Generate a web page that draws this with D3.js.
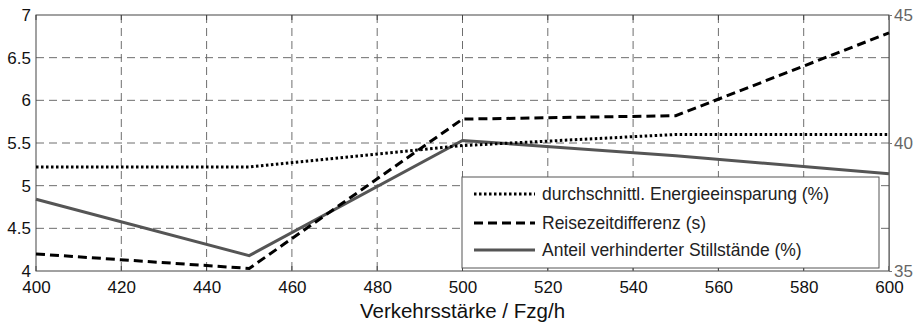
<!DOCTYPE html>
<html>
<head>
<meta charset="utf-8">
<script src="https://cdn.jsdelivr.net/npm/d3@7"></script>
<style>
  body { margin: 0; background: #fff; }
  svg { display: block; font-family: "Liberation Sans", Arial, sans-serif; }
</style>
</head>
<body>
<div id="chart"></div>
<script>
// data
const flow = [400, 450, 500, 550, 600];
const energy = [5.22, 5.22, 5.47, 5.6, 5.6];          // left axis
const travelDiff = [4.2, 4.03, 5.78, 5.82, 6.79];     // left axis
const stops = [37.8, 35.6, 40.1, 39.5, 38.8];         // right axis

const xTicks = [400, 420, 440, 460, 480, 500, 520, 540, 560, 580, 600];
const yTicks = [4, 4.5, 5, 5.5, 6, 6.5, 7];
const y2Ticks = [35, 40, 45];

const legendLabels = [
  "durchschnittl. Energieeinsparung (%)",
  "Reisezeitdifferenz (s)",
  "Anteil verhinderter Stillstände (%)"
];

const W = 914, H = 324;
const margin = {top: 15, right: 25, bottom: 53, left: 36};
const width = W - margin.left - margin.right,
      height = H - margin.top - margin.bottom;

const svg = d3.select("#chart").append("svg")
    .attr("width", W)
    .attr("height", H);

const g = svg.append("g")
    .attr("transform", `translate(${margin.left},${margin.top})`);

const x = d3.scaleLinear().domain([400, 600]).range([0, width]);
const y = d3.scaleLinear().domain([4, 7]).range([height, 0]);
const y2 = d3.scaleLinear().domain([35, 45]).range([height, 0]);

// grid
g.append("g").selectAll("line")
    .data(xTicks.slice(1, -1))
    .join("line")
    .attr("x1", d => x(d)).attr("x2", d => x(d))
    .attr("y1", 0).attr("y2", height)
    .attr("stroke", "#6e6e6e")
    .attr("stroke-dasharray", "8,5");

g.append("g").selectAll("line")
    .data(yTicks.slice(1, -1))
    .join("line")
    .attr("x1", 0).attr("x2", width)
    .attr("y1", d => y(d)).attr("y2", d => y(d))
    .attr("stroke", "#6e6e6e")
    .attr("stroke-dasharray", "8,5");

// frame
g.append("rect")
    .attr("width", width).attr("height", height)
    .attr("fill", "none")
    .attr("stroke", "#444");

// inner tick marks on top and bottom
g.append("g").selectAll("line")
    .data(xTicks)
    .join("line")
    .attr("x1", d => x(d)).attr("x2", d => x(d))
    .attr("y1", height).attr("y2", height - 5)
    .attr("stroke", "#444");
g.append("g").selectAll("line")
    .data(xTicks)
    .join("line")
    .attr("x1", d => x(d)).attr("x2", d => x(d))
    .attr("y1", 0).attr("y2", 5)
    .attr("stroke", "#444");

// axes
const xAxis = g.append("g")
    .attr("transform", `translate(0,${height})`)
    .call(d3.axisBottom(x).tickValues(xTicks).tickSize(0).tickPadding(10));
xAxis.select(".domain").remove();
xAxis.selectAll("text").attr("font-size", 17).attr("fill", "#111")
    .attr("font-family", "Liberation Sans, Arial, sans-serif");

const yAxis = g.append("g")
    .call(d3.axisLeft(y).tickValues(yTicks).tickSize(0).tickPadding(5)
        .tickFormat(d => String(d)));
yAxis.select(".domain").remove();
yAxis.selectAll("text").attr("font-size", 17).attr("fill", "#111")
    .attr("font-family", "Liberation Sans, Arial, sans-serif");

const y2Axis = g.append("g")
    .attr("transform", `translate(${width},0)`)
    .call(d3.axisRight(y2).tickValues(y2Ticks).tickSize(3).tickPadding(2));
y2Axis.select(".domain").attr("stroke", "#777");
y2Axis.selectAll("line").attr("stroke", "#777");
y2Axis.selectAll("text").attr("font-size", 17).attr("fill", "#666")
    .attr("font-family", "Liberation Sans, Arial, sans-serif");

// axis title
svg.append("text")
    .attr("x", margin.left + width / 2)
    .attr("y", H - 6)
    .attr("text-anchor", "middle")
    .attr("font-size", 20.5)
    .attr("fill", "#111")
    .text("Verkehrsstärke / Fzg/h");

// lines
const line = d3.line().x((d, i) => x(flow[i])).y(d => y(d));
const line2 = d3.line().x((d, i) => x(flow[i])).y(d => y2(d));

g.append("path")
    .datum(stops)
    .attr("fill", "none")
    .attr("stroke", "#555")
    .attr("stroke-width", 3)
    .attr("d", line2);

g.append("path")
    .datum(energy)
    .attr("fill", "none")
    .attr("stroke", "#000")
    .attr("stroke-width", 3)
    .attr("stroke-dasharray", "2.5,2.5")
    .attr("d", line);

g.append("path")
    .datum(travelDiff)
    .attr("fill", "none")
    .attr("stroke", "#000")
    .attr("stroke-width", 3)
    .attr("stroke-dasharray", "9,5")
    .attr("d", line);

// legend
const lg = svg.append("g").attr("transform", "translate(462,177)");
lg.append("rect")
    .attr("width", 417).attr("height", 91)
    .attr("fill", "#fff")
    .attr("stroke", "#555");

const legendStyles = [
  {stroke: "#000", dash: "2.5,2.5"},
  {stroke: "#000", dash: "9,5"},
  {stroke: "#555", dash: null}
];
const rowY = [17, 46, 73];

const rows = lg.selectAll("g.row")
    .data(legendLabels)
    .join("g")
    .attr("class", "row")
    .attr("transform", (d, i) => `translate(0,${rowY[i]})`);

rows.append("line")
    .attr("x1", 12).attr("x2", 73)
    .attr("stroke", (d, i) => legendStyles[i].stroke)
    .attr("stroke-width", 3)
    .attr("stroke-dasharray", (d, i) => legendStyles[i].dash);

rows.append("text")
    .attr("x", 80)
    .attr("dy", "0.35em")
    .attr("font-size", 17.5)
    .attr("fill", "#222")
    .text(d => d);
</script>
</body>
</html>
